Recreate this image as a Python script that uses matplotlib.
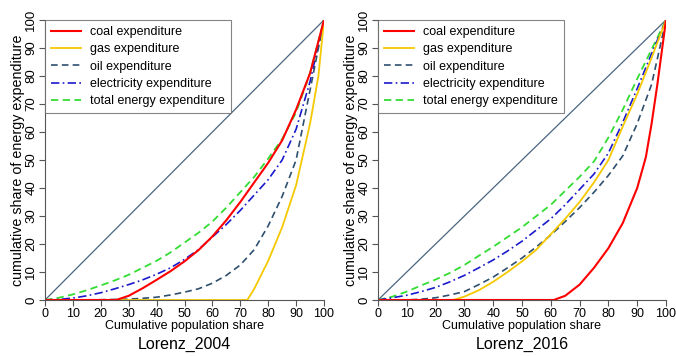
import matplotlib
matplotlib.use("Agg")
import matplotlib.pyplot as plt
from matplotlib.lines import Line2D

plt.rcParams['font.family'] = ['Liberation Sans', 'DejaVu Sans']

pop_grid = [0, 5, 10, 15, 20, 25, 30, 35, 40, 45, 50, 55, 60, 65, 70, 75, 80, 85, 90, 95, 100]

# 2004
coal_2004_x = [0, 25.5, 30, 35, 40, 45, 50, 55, 60, 65, 70, 75, 80, 85, 90, 95, 100]
coal_2004_y = [0, 0, 1.5, 4.2, 7.2, 10.3, 13.8, 17.8, 22.7, 28.5, 35, 42, 49, 57, 68, 81, 100]
gas_2004_x = [0, 72.5, 75, 80, 85, 90, 95, 98, 100]
gas_2004_y = [0, 0, 4, 14, 26, 41, 63, 80, 100]
oil_2004_y = [0, 0, 0, 0.05, 0.1, 0.2, 0.3, 0.6, 1, 1.8, 2.8, 4, 6, 8.8, 12.5, 18, 26.5, 37, 50, 75, 100]
elec_2004_y = [0, 0.2, 0.7, 1.5, 2.6, 4, 5.5, 7.2, 9.2, 11.5, 14.5, 18, 22.5, 27, 32, 37.5, 43, 50, 61, 78, 100]
total_2004_y = [0, 0.8, 2, 3.5, 5.2, 7, 9, 11.5, 14, 17, 20.5, 24, 28, 33, 38.5, 44, 50.5, 57.5, 67, 81, 100]

# 2016
coal_2016_x = [0, 61, 65, 70, 75, 80, 85, 90, 93, 95, 97, 100]
coal_2016_y = [0, 0, 1.5, 5.5, 11.5, 18.5, 27.5, 40, 51, 63, 77, 100]
gas_2016_x = [0, 26, 30, 35, 40, 45, 50, 55, 60, 65, 70, 75, 80, 85, 90, 95, 100]
gas_2016_y = [0, 0, 1.2, 3.5, 6.5, 10, 13.8, 18, 23.5, 29, 35, 42, 50, 62, 73.5, 86.5, 100]
oil_2016_y = [0, 0, 0, 0.3, 0.8, 1.8, 3, 5.5, 8.2, 11.5, 15, 19, 23.2, 28, 33, 38.5, 44.5, 51.5, 63, 77, 100]
elec_2016_y = [0, 0.8, 1.7, 3, 4.5, 6.5, 8.8, 11.5, 14.3, 17.5, 21, 25, 29, 34, 39.5, 45, 52.5, 63.5, 75.5, 88, 100]
total_2016_y = [0, 1.2, 3, 5.2, 7.3, 9.7, 12.5, 15.8, 19, 22.5, 26, 30, 34, 39, 44, 49.5, 58, 68, 79, 89.5, 100]

equality = [0, 100]
x_ticks = [0, 10, 20, 30, 40, 50, 60, 70, 80, 90, 100]
legend_labels = ["coal expenditure", "gas expenditure", "oil expenditure",
                 "electricity expenditure", "total energy expenditure"]
titles = ["Lorenz_2004", "Lorenz_2016"]

c_diag = "#4a6580"
c_coal = "#ff0000"
c_gas = "#f5c800"
c_oil = "#2f4f6f"
c_elec = "#1a1acd"
c_total = "#33dd33"

fig = plt.figure(figsize=(6.76, 3.56), dpi=100)
ax1 = fig.add_axes([45/676, 1-300/356, 279/676, 280/356])
ax2 = fig.add_axes([378/676, 1-300/356, 288/676, 280/356])

panels = [
    (ax1, (coal_2004_x, coal_2004_y), (gas_2004_x, gas_2004_y), oil_2004_y, elec_2004_y, total_2004_y, titles[0]),
    (ax2, (coal_2016_x, coal_2016_y), (gas_2016_x, gas_2016_y), oil_2016_y, elec_2016_y, total_2016_y, titles[1]),
]

for ax, coal, gas, oil, elec, total, title in panels:
    ax.plot(equality, equality, color=c_diag, lw=0.9)
    ax.plot(pop_grid, total, color=c_total, lw=1.3, ls=(0, (4, 2.5)))
    ax.plot(pop_grid, elec, color=c_elec, lw=1.2, ls=(0, (5, 2, 1, 2)))
    ax.plot(pop_grid, oil, color=c_oil, lw=1.2, ls=(0, (4, 2.5)))
    ax.plot(gas[0], gas[1], color=c_gas, lw=1.3)
    ax.plot(coal[0], coal[1], color=c_coal, lw=1.5)
    ax.set_xlim(0, 100)
    ax.set_ylim(0, 100)
    ax.spines['top'].set_visible(False)
    ax.spines['right'].set_visible(False)
    for s in ('left', 'bottom'):
        ax.spines[s].set_color("#555555")
        ax.spines[s].set_linewidth(0.8)
    ax.set_xticks(x_ticks)
    ax.set_yticks(x_ticks)
    ax.tick_params(axis='both', direction='out', length=4, width=0.8, color="#555555", pad=1.5)
    ax.tick_params(axis='x', labelsize=9)
    ax.tick_params(axis='y', labelsize=9.5)
    for lbl in ax.get_yticklabels():
        lbl.set_rotation(90)
        lbl.set_va('center')
    ax.set_xlabel("Cumulative population share", fontsize=9, labelpad=0.5)
    ax.set_ylabel("cumulative share of energy expenditure", fontsize=10.3, labelpad=0)
    ax.text(0.5, -0.13, title, transform=ax.transAxes, ha='center', va='top', fontsize=11.5)

    handles = [
        Line2D([], [], color=c_coal, lw=1.5),
        Line2D([], [], color=c_gas, lw=1.3),
        Line2D([], [], color=c_oil, lw=1.2, ls=(0, (4, 2.5))),
        Line2D([], [], color=c_elec, lw=1.2, ls=(0, (5, 2, 1, 2))),
        Line2D([], [], color=c_total, lw=1.3, ls=(0, (4, 2.5))),
    ]
    leg = ax.legend(handles, legend_labels, loc='upper left', bbox_to_anchor=(0.0, 1.0),
                    borderaxespad=0.0, fontsize=9, frameon=True, fancybox=False,
                    handlelength=2.4, handletextpad=0.7, labelspacing=0.42,
                    borderpad=0.5)
    leg.get_frame().set_edgecolor("#666666")
    leg.get_frame().set_linewidth(0.8)

fig.savefig("out.png", dpi=100)
